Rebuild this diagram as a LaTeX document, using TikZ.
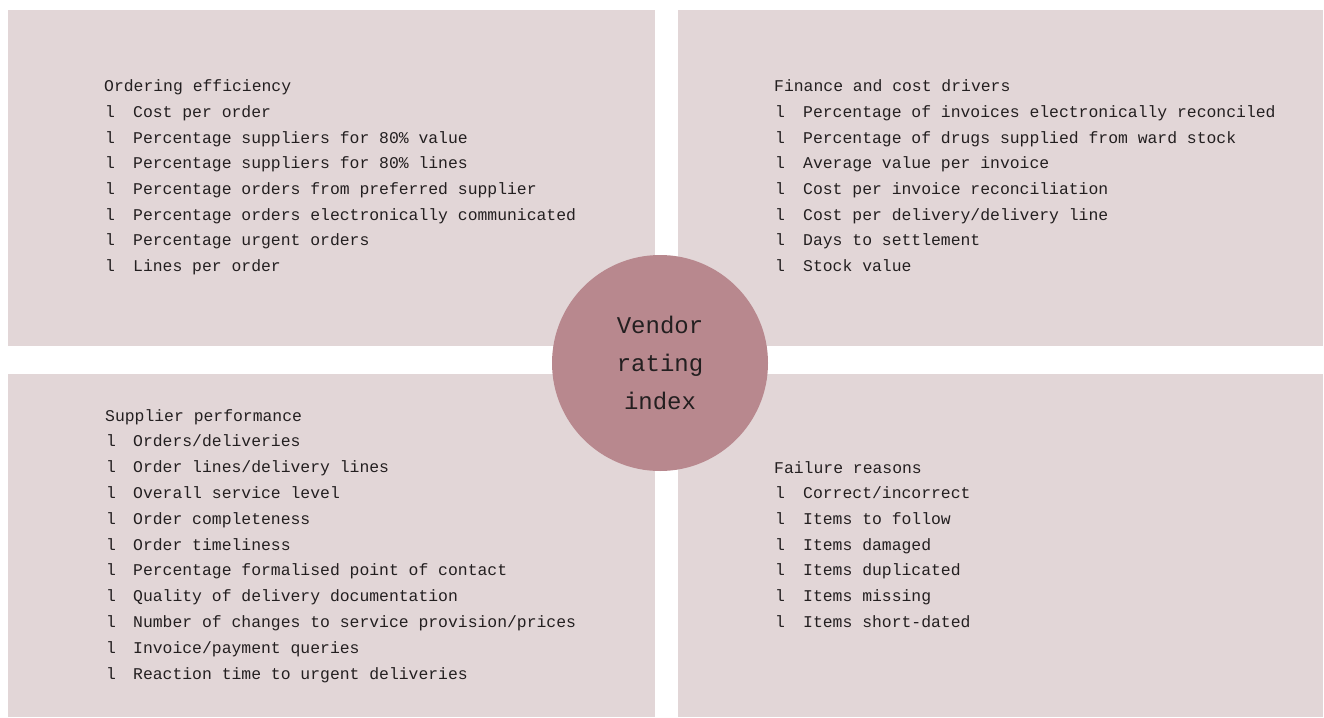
\documentclass[tikz,border=0pt]{standalone}
\usepackage{fontspec}
\setmainfont{Liberation Mono}
\definecolor{panel}{RGB}{226,214,215}
\definecolor{hub}{RGB}{184,136,142}
\definecolor{ink}{RGB}{35,31,32}
\tikzset{
  panel/.style={fill=panel, draw=none},
  entry/.style={anchor=base west, inner sep=0pt, text=ink,
    font=\fontsize{16.4}{20}\selectfont},
  hubnode/.style={circle, fill=hub, minimum size=216pt, inner sep=0pt,
    align=center, text=ink, font=\fontsize{24}{38}\selectfont},
}
\begin{document}
\begin{tikzpicture}[x=1pt,y=-1pt]
\useasboundingbox (0,0) rectangle (1324,717);

% four panels
\fill[panel] (8,10) rectangle (655,346);
\fill[panel] (678,10) rectangle (1323,346);
\fill[panel] (8,374) rectangle (655,717);
\fill[panel] (678,374) rectangle (1323,717);

% ordering efficiency
\node[entry] (oe) at (104,92) {Ordering efficiency};
\foreach \t [count=\i] in {Cost per order,
  Percentage suppliers for 80\% value,
  Percentage suppliers for 80\% lines,
  Percentage orders from preferred supplier,
  Percentage orders electronically communicated,
  Percentage urgent orders,
  Lines per order}
{
\node[entry] (oe-l\i) at (105,92+25.6*\i) {l};
\node[entry] (oe-\i) at (133,92+25.6*\i) {\t};
}

% finance and cost drivers
\node[entry] (fc) at (774,92) {Finance and cost drivers};
\foreach \t [count=\i] in {Percentage of invoices electronically reconciled,
  Percentage of drugs supplied from ward stock,
  Average value per invoice,
  Cost per invoice reconciliation,
  Cost per delivery/delivery line,
  Days to settlement,
  Stock value}
{
\node[entry] (fc-l\i) at (775,92+25.6*\i) {l};
\node[entry] (fc-\i) at (803,92+25.6*\i) {\t};
}

% supplier performance
\node[entry] (sp) at (105,421) {Supplier performance};
\foreach \t [count=\i] in {Orders/deliveries,
  Order lines/delivery lines,
  Overall service level,
  Order completeness,
  Order timeliness,
  Percentage formalised point of contact,
  Quality of delivery documentation,
  Number of changes to service provision/prices,
  Invoice/payment queries,
  Reaction time to urgent deliveries}
{
\node[entry] (sp-l\i) at (106,421+25.8*\i) {l};
\node[entry] (sp-\i) at (133,421+25.8*\i) {\t};
}

% failure reasons
\node[entry] (fr) at (774,473) {Failure reasons};
\foreach \t [count=\i] in {Correct/incorrect,
  Items to follow,
  Items damaged,
  Items duplicated,
  Items missing,
  Items short-dated}
{
\node[entry] (fr-l\i) at (775,473+25.7*\i) {l};
\node[entry] (fr-\i) at (803,473+25.7*\i) {\t};
}

% centre
\node[hubnode] (vri) at (660,363) {Vendor\\rating\\index};
\end{tikzpicture}
\end{document}
